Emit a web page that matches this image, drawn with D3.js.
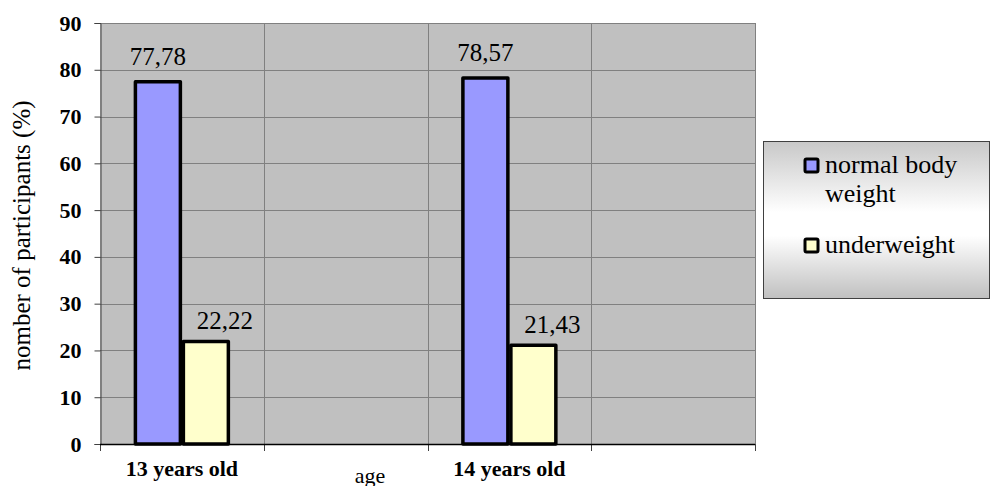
<!DOCTYPE html>
<html lang="en">
<head>
  <meta charset="utf-8">
  <title>body weight by age</title>
  <style>
  * { margin:0; padding:0; }
  body { background:#fff; }
  </style>
  <script src="https://d3js.org/d3.v7.min.js"></script>
</head>
<body>
  <div id="chart"></div>
  <script type="text/javascript">
  // data
  var categories = ["13 years old", "", "14 years old", ""];
  var seriesNames = ["normal body weight", "underweight"];
  var normalWeight = [77.78, null, 78.57, null];
  var underweight = [22.22, null, 21.43, null];
  var yTicks = [0, 10, 20, 30, 40, 50, 60, 70, 80, 90];

  var serif = "'Liberation Serif', 'Times New Roman', Times, serif";
  var w = 991, h = 486;
  var svg = d3.select("#chart").append("svg")
    .attr("width", w).attr("height", h);

  // plot box (note: "top" is taken by window.top)
  var pLeft = 100, pRight = 755, pTop = 23, pBottom = 444;

  var x = d3.scaleBand().domain(categories.map(function(d,i){return i;}))
    .range([pLeft, pRight]).padding(0);
  var bw = x.bandwidth();
  var inner = d3.scaleBand().domain(seriesNames)
    .range([bw*0.207, bw*0.793]).padding(0);
  var y = d3.scaleLinear().domain([0, 90]).range([pBottom, pTop]);

  var colors = {"normal body weight": "#9999ff", "underweight": "#ffffcc"};

  // plot background
  svg.append("rect")
    .attr("x", pLeft).attr("y", pTop)
    .attr("width", pRight-pLeft).attr("height", pBottom-pTop)
    .style("fill", "#c0c0c0");

  // horizontal gridlines
  svg.selectAll(".hgrid")
    .data(yTicks.filter(function(d){return d>0;}))
    .enter().append("line")
    .attr("x1", pLeft).attr("x2", pRight)
    .attr("y1", function(d){return Math.round(y(d))+0.5;})
    .attr("y2", function(d){return Math.round(y(d))+0.5;})
    .style("stroke", "#808080").style("stroke-width", 1);

  // vertical gridlines at band edges
  var edges = categories.map(function(d,i){return x(i);}).concat([pRight]);
  svg.selectAll(".vgrid")
    .data(edges.slice(1))
    .enter().append("line")
    .attr("x1", function(d){return Math.round(d)+0.5;})
    .attr("x2", function(d){return Math.round(d)+0.5;})
    .attr("y1", pTop).attr("y2", pBottom)
    .style("stroke", "#808080").style("stroke-width", 1);

  // y axis
  var yAxis = d3.axisLeft(y).tickValues(yTicks).tickSize(6).tickPadding(13);
  var gy = svg.append("g").attr("transform", "translate(" + (pLeft+0.5) + ",0)").call(yAxis);
  gy.select(".domain").style("stroke", "#404040");
  gy.selectAll(".tick line").style("stroke", "#404040");
  gy.selectAll(".tick text")
    .style("font-family", serif)
    .style("font-size", "22px").style("font-weight", "bold").style("fill", "#000");

  // x axis ticks at band edges
  svg.selectAll(".xtick")
    .data(edges)
    .enter().append("line")
    .attr("x1", function(d){return Math.round(d)+0.5;})
    .attr("x2", function(d){return Math.round(d)+0.5;})
    .attr("y1", pBottom).attr("y2", pBottom+7)
    .style("stroke", "#404040");
  svg.append("line")
    .attr("x1", pLeft).attr("x2", pRight)
    .attr("y1", pBottom+0.5).attr("y2", pBottom+0.5)
    .style("stroke", "#000").style("stroke-width", 1.5);

  svg.selectAll(".xlabel")
    .data(categories)
    .enter().append("text")
    .attr("x", function(d,i){return x(i)+bw/2;})
    .attr("y", 476)
    .attr("text-anchor", "middle")
    .style("font-family", serif)
    .style("font-size", "22px").style("font-weight", "bold")
    .text(function(d){return d;});

  // bars
  var rows = [];
  categories.forEach(function(c,i){
    [normalWeight, underweight].forEach(function(arr,k){
      if (arr[i] != null) rows.push({i:i, s:seriesNames[k], v:arr[i]});
    });
  });

  svg.selectAll(".bar")
    .data(rows)
    .enter().append("rect")
    .attr("x", function(d){return x(d.i)+inner(d.s)+1.5;})
    .attr("y", function(d){return y(d.v)+1.5;})
    .attr("width", inner.bandwidth()-3)
    .attr("height", function(d){return y(0)-y(d.v)-1.5;})
    .style("fill", function(d){return colors[d.s];})
    .style("stroke", "#000").style("stroke-width", 3.5)
    .style("stroke-linejoin", "round");

  // value labels
  svg.selectAll(".val")
    .data(rows)
    .enter().append("text")
    .attr("x", function(d){
      return x(d.i)+inner(d.s)+inner.bandwidth()/2 + (d.s=="underweight" ? 19 : 0);
    })
    .attr("y", function(d){return y(d.v) - (d.s=="underweight" ? 11 : 15);})
    .attr("text-anchor", "middle")
    .style("font-family", serif)
    .style("font-size", "25px")
    .text(function(d){return d3.format(".2f")(d.v).replace(".", ",");});

  // axis titles
  svg.append("text")
    .attr("transform", "translate(30," + ((pTop+pBottom)/2 + 2) + ") rotate(-90)")
    .attr("text-anchor", "middle")
    .style("font-family", serif)
    .style("font-size", "25px")
    .text("nomber of participants  (%)");

  svg.append("text")
    .attr("x", 370).attr("y", 483)
    .attr("text-anchor", "middle")
    .style("font-family", serif)
    .style("font-size", "22px")
    .text("age");

  // legend
  var defs = svg.append("defs");
  var grad = defs.append("linearGradient").attr("id", "lg")
    .attr("x1", 0).attr("y1", 0).attr("x2", 0).attr("y2", 1);
  grad.append("stop").attr("offset", "0%").attr("stop-color", "#c8c8c8");
  grad.append("stop").attr("offset", "45%").attr("stop-color", "#ffffff");
  grad.append("stop").attr("offset", "60%").attr("stop-color", "#ffffff");
  grad.append("stop").attr("offset", "100%").attr("stop-color", "#c0c0c0");

  var lg = svg.append("g").attr("transform", "translate(763,141)");
  lg.append("rect")
    .attr("x", 0.5).attr("y", 0.5).attr("width", 226).attr("height", 157)
    .style("fill", "url(#lg)").style("stroke", "#404040").style("stroke-width", 1);

  var legendLines = [["normal body", "weight"], ["underweight"]];
  var legendY = [32, 112];
  seriesNames.forEach(function(s,k){
    var g = lg.append("g").attr("transform", "translate(0," + legendY[k] + ")");
    g.append("rect")
      .attr("x", 42).attr("y", -14).attr("width", 13).attr("height", 13)
      .style("fill", colors[s]).style("stroke", "#000").style("stroke-width", 3)
      .attr("rx", 1.5);
    legendLines[k].forEach(function(t,j){
      g.append("text")
        .attr("x", 62).attr("y", j*29)
        .style("font-family", serif)
        .style("font-size", "26px")
        .text(t);
    });
  });
  </script>
</body>
</html>
